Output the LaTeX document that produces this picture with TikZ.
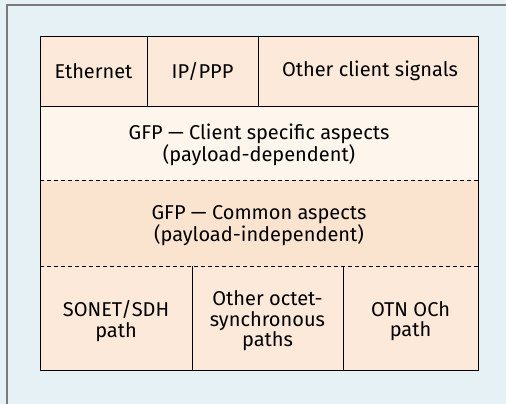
\documentclass[tikz,border=0pt]{standalone}
\usepackage{fontspec}
\setmainfont{Fira Sans}
\definecolor{bgblue}{HTML}{E6F1F6}
\definecolor{frame}{HTML}{7A7A7A}
\definecolor{peach}{HTML}{FCE9D9}
\definecolor{cream}{HTML}{FEF5EC}
\definecolor{tan}{HTML}{FBE4CF}
\tikzset{
  rule/.style={draw=black, line width=0.9pt},
  dashrule/.style={draw=black, line width=0.7pt, dash pattern=on 4pt off 3pt},
  lbl/.style={font=\fontsize{20}{20.5}\selectfont, align=center, text=black, inner sep=0pt}
}
\begin{document}
\begin{tikzpicture}[x=1pt,y=-1pt]
  \useasboundingbox (0,0) rectangle (506,404);
  \fill[bgblue] (0,0) rectangle (506,404);
  \draw[frame, line width=1.8pt] (7,404) -- (7,5) -- (506,5);
  % layer bands
  \fill[peach] (40,36) rectangle (478,106);
  \fill[cream] (40,106) rectangle (478,180);
  \fill[tan] (40,180) rectangle (478,266);
  \fill[peach] (40,266) rectangle (478,370);
  % outline and separators
  \draw[rule] (40,36) rectangle (478,370);
  \draw[rule] (40,106) -- (478,106);
  \draw[dashrule] (40,180) -- (478,180);
  \draw[dashrule] (40,266) -- (478,266);
  \draw[rule] (147,36) -- (147,106);
  \draw[rule] (258,36) -- (258,106);
  \draw[rule] (192,266) -- (192,370);
  \draw[rule] (343,266) -- (343,370);
  % labels
  \node[lbl] (eth) at (93.5,71) {Ethernet};
  \node[lbl] (ip) at (202.5,71) {IP/PPP};
  \node[lbl] (oth) at (370,71) {Other client signals};
  \node[lbl] (gfpc) at (259,145) {GFP — Client specific aspects\\(payload-dependent)};
  \node[lbl] (gfpm) at (259,226) {GFP — Common aspects\\(payload-independent)};
  \node[lbl] (sonet) at (116,321) {SONET/SDH\\path};
  \node[lbl] (octet) at (267.5,321) {Other octet-\\synchronous\\paths};
  \node[lbl] (otn) at (410.5,321) {OTN OCh\\path};
\end{tikzpicture}
\end{document}
